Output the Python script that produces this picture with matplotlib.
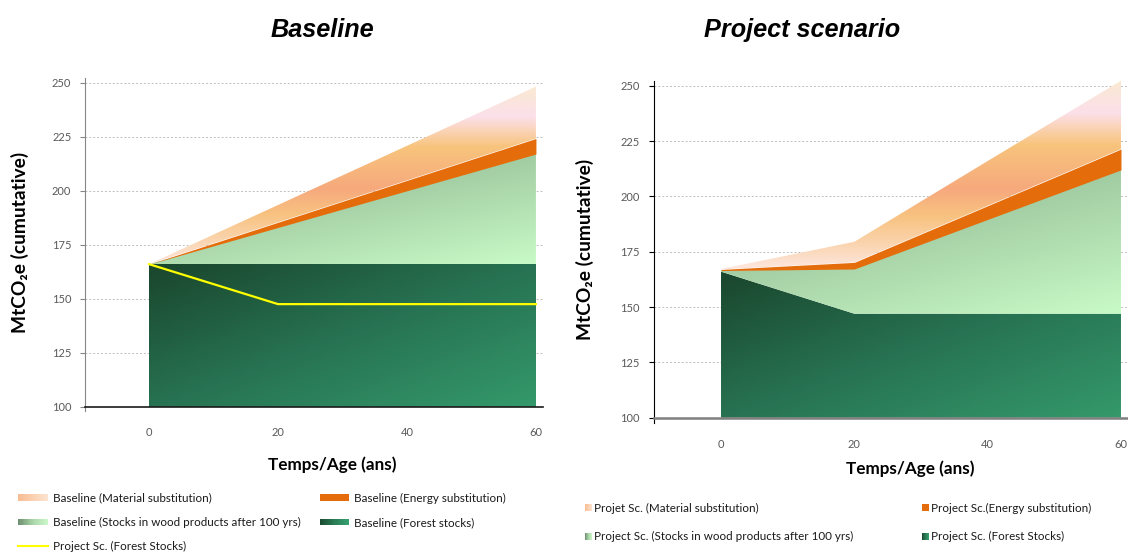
import matplotlib
matplotlib.use("Agg")
import matplotlib.pyplot as plt
import numpy as np
from matplotlib.colors import LinearSegmentedColormap
from matplotlib.legend_handler import HandlerBase
from matplotlib.patches import Patch, Rectangle
from matplotlib.lines import Line2D

plt.rcParams['font.family'] = ['Lato', 'DejaVu Sans']

# ---- data (stacked layers, MtCO2e cumulative) ----
years = [0, 20, 40, 60]

base_forest = [166, 166, 166, 166]
base_wood = [0, 17, 34, 51]
base_energy = [0, 2.4, 4.8, 7.2]
base_material = [0, 8, 16, 24]
proj_forest_line = [166, 147.5, 147.5, 147.5]

proj_forest = [166, 147, 147, 147]
proj_wood = [0.5, 20.2, 42.6, 65]
proj_energy = [0.5, 3.0, 6.2, 9.4]
proj_material = [0.2, 9.3, 20.2, 30.9]

yticks = [100, 125, 150, 175, 200, 225, 250]
xticks = [0, 20, 40, 60]

base_labels = ["Baseline (Material substitution)", "Baseline (Energy substitution)",
               "Baseline (Stocks in wood products after 100 yrs)", "Baseline (Forest stocks)",
               "Project Sc. (Forest Stocks)"]
proj_labels = ["Projet Sc. (Material substitution)", "Project Sc.(Energy substitution)",
               "Project Sc. (Stocks in wood products after 100 yrs)", "Project Sc. (Forest Stocks)"]

# ---- colours ----
mat_cmap = LinearSegmentedColormap.from_list("mat", [
    (0.0, '#FDE6DE'), (0.15, '#FAD2A8'), (0.28, '#F8C280'), (0.42, '#F6A97D'),
    (0.66, '#F8C47C'), (0.83, '#FCE0EA'), (1.0, '#FAE9D2')])
wood_cmap = LinearSegmentedColormap.from_list("wood", ['#86AD87', '#A8D3A8', '#C8FAC6'])
forest_cmap = LinearSegmentedColormap.from_list("forest", ['#1A462D', '#277252', '#34996B'])
energy_col = '#E46C0A'


def grad_area(ax, x, lo, hi, cmap, wx, wy, c):
    poly = ax.fill_between(x, lo, hi, facecolor='none', edgecolor='none', zorder=1)
    xf, yf = np.meshgrid(np.linspace(0, 1, 200), np.linspace(0, 1, 200))
    t = np.clip(wx * xf + wy * yf + c, 0, 1)
    im = ax.imshow(t, cmap=cmap, vmin=0, vmax=1, origin='lower', aspect='auto',
                   extent=[min(x), max(x), min(lo), max(hi)], interpolation='bilinear', zorder=1)
    im.set_clip_path(poly.get_paths()[0], transform=ax.transData)


def draw_stack(ax, forest, wood, energy, material):
    f = np.array(forest, dtype=float)
    w = f + np.array(wood)
    e = w + np.array(energy)
    m = e + np.array(material)
    grad_area(ax, years, [100] * 4, f, forest_cmap, 0.5, -0.5, 0.5)
    grad_area(ax, years, f, w, wood_cmap, 0.4, -0.6, 0.6)
    ax.fill_between(years, w, e, color=energy_col, lw=0, zorder=1.2)
    grad_area(ax, years, e, m, mat_cmap, 0, 1, 0)


def style_axes(ax, xlim, left_col, bottom_col, bottom_lw, ypad, xpad):
    ax.set_xlim(*xlim)
    ax.set_ylim(100, 252.2)
    ax.set_yticks(yticks)
    ax.set_xticks(xticks)
    ax.set_axisbelow(True)
    ax.yaxis.grid(True, linestyle=(0, (2, 2)), color='#BFBFBF', linewidth=0.7)
    for s in ['top', 'right']:
        ax.spines[s].set_visible(False)
    ax.spines['left'].set_color(left_col)
    ax.spines['left'].set_bounds(97.8, 252.2)
    ax.spines['bottom'].set_color(bottom_col)
    ax.spines['bottom'].set_linewidth(bottom_lw)
    ax.spines['bottom'].set_zorder(3)
    ax.tick_params(axis='y', length=3.5, color=left_col, labelsize=8, labelcolor='#595959', pad=ypad)
    ax.tick_params(axis='x', length=0, labelsize=8, labelcolor='#595959', pad=xpad)


fig = plt.figure(figsize=(11.28, 5.52), dpi=100)

# ---- Baseline ----
ax1 = fig.add_axes([0.0756, 0.2632, 0.4058, 0.5955])
draw_stack(ax1, base_forest, base_wood, base_energy, base_material)
ax1.plot(years, proj_forest_line, color='#FFFF00', lw=1.6, zorder=3)
style_axes(ax1, (-9.9, 61.1), '#868686', '#1A1A1A', 1.2, 6.5, 14.5)
ax1.set_xlabel("Temps/Age (ans)", fontsize=12.3, fontweight='bold')
ax1.set_ylabel("MtCO₂e (cumutative)", fontsize=13.8, fontweight='bold')
ax1.xaxis.set_label_coords(0.539, -0.15)
ax1.yaxis.set_label_coords(-0.123, 0.5)

# ---- Project scenario ----
ax2 = fig.add_axes([0.5801, 0.2433, 0.4190, 0.6105])
draw_stack(ax2, proj_forest, proj_wood, proj_energy, proj_material)
style_axes(ax2, (-10, 60.9), '#000000', '#7F7F7F', 1.8, 7.2, 15)
ax2.set_ylim(100, 252.3)
ax2.set_xlabel("Temps/Age (ans)", fontsize=12.3, fontweight='bold')
ax2.set_ylabel("MtCO₂e (cumutative)", fontsize=13.8, fontweight='bold')
ax2.xaxis.set_label_coords(0.541, -0.128)
ax2.yaxis.set_label_coords(-0.1276, 0.5)

fig.text(322 / 1128, 1 - 30 / 552, "Baseline", ha='center', va='center', fontsize=18.2,
         fontweight='bold', fontstyle='italic', family='Liberation Sans')
fig.text(802 / 1128, 1 - 30 / 552, "Project scenario", ha='center', va='center', fontsize=18.2,
         fontweight='bold', fontstyle='italic', family='Liberation Sans')


# ---- legends ----
class GradHandler(HandlerBase):
    def __init__(self, colors, h):
        super().__init__()
        self.cmap = LinearSegmentedColormap.from_list("h", colors)
        self.h = h

    def create_artists(self, legend, orig_handle, xdescent, ydescent, width, height, fontsize, trans):
        y0 = -ydescent + (height - self.h) / 2
        n = 24
        arts = []
        for i in range(n):
            arts.append(Rectangle((-xdescent + width * i / n, y0), width / n * 1.08, self.h,
                                  facecolor=self.cmap(i / (n - 1)), edgecolor='none', transform=trans))
        return arts


mat_h = ['#F8BC93', '#FBD0B0', '#FDE3CF']
en_h = [energy_col, energy_col]
wood_h = ['#6E8F70', '#A9D6A8', '#CBF5C8']
for_h = ['#1B4B31', '#2A7B55', '#35A06E']


def add_legend(entries, x, ytop, hl, hh, htp, ls):
    handles, labels, hmap = [], [], {}
    for lab, cols in entries:
        if cols is None:
            hd = Line2D([], [], color='#FFFF00', lw=1.5)
        else:
            hd = Patch()
            hmap[hd] = GradHandler(cols, hh)
        handles.append(hd)
        labels.append(lab)
    fig.legend(handles, labels, loc='upper left', bbox_to_anchor=(x / 1128, 1 - ytop / 552),
               bbox_transform=fig.transFigure, frameon=False, borderpad=0, borderaxespad=0,
               handlelength=hl, handletextpad=htp, labelspacing=ls, handler_map=hmap,
               prop={'size': 8.4}, labelcolor='#1A1A1A')


add_legend([(base_labels[0], mat_h), (base_labels[2], wood_h), (base_labels[4], None)],
           18, 492.5, 2.53, 4.8, 0.43, 1.15)
add_legend([(base_labels[1], en_h), (base_labels[3], for_h)],
           319.5, 492.5, 2.53, 4.8, 0.43, 1.15)
add_legend([(proj_labels[0], mat_h), (proj_labels[2], wood_h)],
           585, 503, 0.6, 5.0, 0.2, 1.48)
add_legend([(proj_labels[1], en_h), (proj_labels[3], for_h)],
           922, 503, 0.6, 5.0, 0.2, 1.48)

fig.savefig("out.png", dpi=100)
